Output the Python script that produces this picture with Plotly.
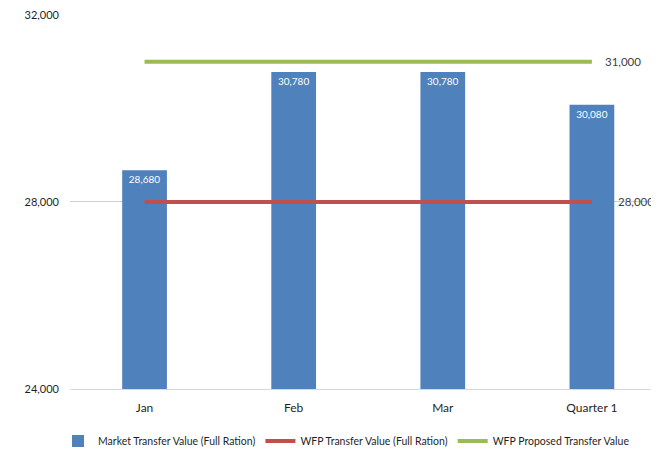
import plotly.graph_objects as go

CATEGORIES = ["Jan", "Feb", "Mar", "Quarter 1"]
MARKET_VALUES = [28680, 30780, 30780, 30080]
WFP_VALUES = [28000, 28000, 28000, 28000]
PROPOSED_VALUES = [31000, 31000, 31000, 31000]
Y_TICKS = [24000, 28000, 32000]

BLUE = "#4F81BD"
RED = "#C0504D"
GREEN = "#9BBB59"
FONT = "Lato, 'Open Sans', sans-serif"
TEXT = "#1F1F1F"

fig = go.Figure()
fig.add_trace(
    go.Bar(
        x=CATEGORIES,
        y=MARKET_VALUES,
        name="Market Transfer Value (Full Ration)",
        marker={"color": BLUE, "line": {"width": 0}},
        text=[f"{v:,}" for v in MARKET_VALUES],
        textposition="inside",
        insidetextanchor="end",
        textfont={"color": "white", "size": 10, "family": FONT},
    )
)
fig.add_trace(
    go.Scatter(
        x=CATEGORIES,
        y=WFP_VALUES,
        mode="lines",
        name="WFP Transfer Value (Full Ration)",
        line={"color": RED, "width": 4},
    )
)
fig.add_trace(
    go.Scatter(
        x=CATEGORIES,
        y=PROPOSED_VALUES,
        mode="lines",
        name="WFP Proposed Transfer Value",
        line={"color": GREEN, "width": 4},
    )
)

# end-of-line value labels
fig.add_annotation(
    x=CATEGORIES[-1], y=PROPOSED_VALUES[-1], text=f"{PROPOSED_VALUES[-1]:,}",
    showarrow=False, xanchor="left", xshift=11,
    font={"size": 11.5, "color": "#404040", "family": FONT},
)
fig.add_annotation(
    x=CATEGORIES[-1], y=WFP_VALUES[-1], text=f"{WFP_VALUES[-1]:,}",
    showarrow=False, xanchor="left", xshift=24,
    font={"size": 11.5, "color": "#404040", "family": FONT},
)

# page body adds an 8px margin, so the figure is drawn 8px smaller
fig.update_layout(
    width=651,
    height=444,
    margin=dict(l=62, r=0, t=6, b=63, autoexpand=False),
    paper_bgcolor="white",
    plot_bgcolor="white",
    font={"family": FONT, "color": TEXT, "size": 11},
    bargap=0.7,
    showlegend=True,
    legend={
        "orientation": "h",
        "xref": "container",
        "x": 0.52,
        "xanchor": "center",
        "y": -0.1,
        "yanchor": "top",
        "font": {"size": 10.5, "color": TEXT},
        "itemwidth": 30,
    },
)
fig.update_xaxes(
    range=[-0.5, 3.45],
    automargin=False,
    showgrid=False,
    showline=True,
    linecolor="#D9D9D9",
    linewidth=1,
    ticks="",
    ticklabelstandoff=8,
    tickfont={"size": 12, "color": TEXT},
)
fig.update_yaxes(
    range=[24000, 32020],
    automargin=False,
    tickvals=Y_TICKS,
    ticktext=[f"{v:,}" for v in Y_TICKS],
    ticklabeloverflow="allow",
    showgrid=True,
    gridcolor="#D0D0D0",
    gridwidth=1,
    zeroline=False,
    ticks="",
    ticklabelstandoff=10,
    tickfont={"size": 11, "color": TEXT},
)

fig.write_html("out.html")
